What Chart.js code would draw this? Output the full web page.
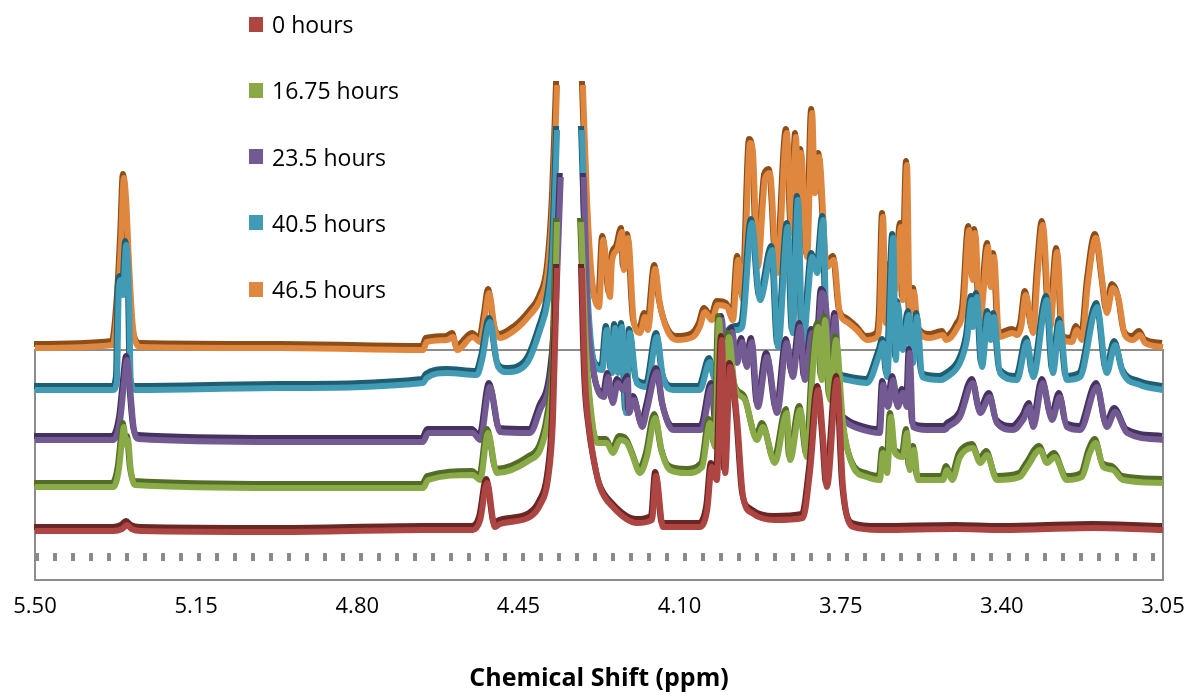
<!DOCTYPE html>
<html>
<head>
<meta charset="utf-8">
<script src="https://cdn.jsdelivr.net/npm/chart.js@4.4.1/dist/chart.umd.min.js"></script>
<style>
  body { margin: 0; background: #fff; }
  #wrap { position: relative; width: 1186px; height: 698px; }
  #legend { position: absolute; left: 249px; top: 0; font-family: "Open Sans", sans-serif; font-size: 23px; color: #000; }
  .item { position: absolute; left: 0; width: 220px; height: 30px; display: flex; align-items: center; white-space: nowrap; }
  .box { width: 14px; height: 15px; margin-right: 9px; flex: none; }
</style>
</head>
<body>
<div id="wrap">
  <canvas id="nmr" width="1186" height="698"></canvas>
  <div id="legend"></div>
</div>
<script>
// x axis ticks (ppm), axis runs high -> low
const ppmTicks = [5.50, 5.15, 4.80, 4.45, 4.10, 3.75, 3.40, 3.05];
const seriesNames = ['0 hours', '16.75 hours', '23.5 hours', '40.5 hours', '46.5 hours'];
const seriesColors = ['#ad4543', '#8aaa47', '#735a93', '#429bb5', '#e0873f'];
const seriesShades = ['#6a2624', '#536c27', '#45325f', '#1f5e72', '#8d4d18'];

// [ppm, stacked intensity]; null = water region removed
const h0 = [[5.500,49],[5.330,49],[5.311,51],[5.300,55],[5.290,51],[5.270,49],[4.968,48],[4.657,50],[4.549,50],[4.533,60],[4.518,97],[4.501,53],[4.490,56],[4.425,63],[4.403,75],[4.386,100],[4.375,160],[4.366,312],[4.34,null],[4.312,312],[4.305,200],[4.295,147],[4.284,115],[4.273,93],[4.245,73],[4.192,57],[4.160,60],[4.151,104],[4.136,53],[4.056,53],[4.040,70],[4.030,113],[4.019,100],[4.008,240],[4.001,107],[3.990,213],[3.975,160],[3.962,83],[3.943,67],[3.893,60],[3.832,62],[3.817,107],[3.799,190],[3.788,140],[3.780,93],[3.758,200],[3.745,93],[3.723,53],[3.665,50],[3.500,51],[3.400,50],[3.200,52],[3.050,50]];

const h16 = [[5.500,93],[5.330,93],[5.318,110],[5.311,140],[5.307,153],[5.302,135],[5.298,140],[5.292,110],[5.283,95],[4.968,92],[4.657,92],[4.646,100],[4.549,105],[4.533,100],[4.516,147],[4.497,107],[4.425,120],[4.403,130],[4.386,160],[4.375,210],[4.366,358],[4.34,null],[4.314,358],[4.303,230],[4.290,160],[4.279,137],[4.258,137],[4.245,127],[4.229,140],[4.214,137],[4.201,123],[4.186,107],[4.171,123],[4.153,162],[4.138,127],[4.121,110],[4.084,107],[4.051,113],[4.034,157],[4.023,133],[4.014,260],[4.006,160],[3.993,243],[3.980,193],[3.958,180],[3.932,140],[3.919,153],[3.893,117],[3.867,167],[3.860,120],[3.838,170],[3.823,123],[3.810,213],[3.799,253],[3.791,200],[3.784,260],[3.773,180],[3.760,240],[3.745,157],[3.723,113],[3.693,103],[3.665,100],[3.658,127],[3.649,107],[3.641,163],[3.632,127],[3.615,123],[3.606,147],[3.600,110],[3.591,130],[3.582,100],[3.528,100],[3.519,110],[3.508,100],[3.491,123],[3.463,132],[3.447,117],[3.432,125],[3.411,100],[3.361,103],[3.345,113],[3.317,130],[3.302,117],[3.285,123],[3.259,100],[3.226,103],[3.209,127],[3.196,137],[3.180,113],[3.159,110],[3.137,100],[3.050,97]];

const h23 = [[5.500,140],[5.330,140],[5.315,160],[5.307,195],[5.300,220],[5.294,195],[5.285,150],[5.275,141],[4.968,138],[4.657,138],[4.646,147],[4.549,147],[4.533,140],[4.512,193],[4.490,148],[4.425,147],[4.403,170],[4.381,200],[4.371,250],[4.358,403],[4.34,null],[4.308,403],[4.301,280],[4.286,207],[4.264,183],[4.255,203],[4.245,177],[4.234,197],[4.223,190],[4.212,200],[4.210,167],[4.199,180],[4.181,153],[4.171,170],[4.149,208],[4.136,173],[4.114,150],[4.056,150],[4.049,153],[4.030,193],[4.019,150],[4.008,260],[3.997,167],[3.986,248],[3.975,217],[3.964,238],[3.954,213],[3.943,238],[3.930,173],[3.910,223],[3.888,167],[3.867,237],[3.854,203],[3.838,253],[3.828,200],[3.812,247],[3.801,233],[3.791,287],[3.780,263],[3.773,190],[3.762,263],[3.752,173],[3.736,157],[3.702,150],[3.665,147],[3.658,195],[3.647,173],[3.636,200],[3.626,173],[3.615,187],[3.606,173],[3.600,227],[3.593,153],[3.563,150],[3.524,150],[3.517,153],[3.491,163],[3.463,197],[3.447,167],[3.426,183],[3.411,157],[3.376,150],[3.354,160],[3.339,173],[3.332,153],[3.311,197],[3.291,160],[3.274,183],[3.259,153],[3.230,150],[3.193,193],[3.172,153],[3.154,168],[3.128,147],[3.050,140]];

const h40 = [[5.500,190],[5.330,190],[5.322,200],[5.318,290],[5.313,300],[5.309,285],[5.302,335],[5.296,290],[5.292,200],[5.283,190],[4.968,192],[4.657,197],[4.649,202],[4.605,207],[4.540,205],[4.529,220],[4.512,258],[4.494,213],[4.475,208],[4.431,217],[4.403,250],[4.386,280],[4.375,330],[4.366,450],[4.34,null],[4.312,450],[4.299,280],[4.282,213],[4.268,210],[4.258,250],[4.247,207],[4.240,252],[4.234,207],[4.225,253],[4.216,167],[4.208,247],[4.193,197],[4.171,193],[4.149,243],[4.136,203],[4.114,190],[4.056,190],[4.034,218],[4.023,200],[4.008,225],[3.990,247],[3.975,250],[3.964,253],[3.943,357],[3.925,280],[3.919,287],[3.899,330],[3.886,233],[3.865,353],[3.854,247],[3.843,380],[3.832,227],[3.823,273],[3.812,323],[3.801,307],[3.788,360],[3.780,247],[3.767,250],[3.756,207],[3.736,200],[3.693,197],[3.665,227],[3.658,237],[3.649,203],[3.636,342],[3.630,220],[3.626,275],[3.615,230],[3.602,265],[3.593,217],[3.584,263],[3.573,203],[3.534,200],[3.519,203],[3.491,217],[3.476,240],[3.465,280],[3.463,253],[3.454,283],[3.443,213],[3.430,265],[3.424,240],[3.417,263],[3.404,207],[3.367,200],[3.345,238],[3.332,203],[3.302,280],[3.289,207],[3.274,257],[3.259,200],[3.230,203],[3.193,273],[3.172,207],[3.154,235],[3.137,207],[3.100,195],[3.050,190]];

const h46 = [[5.500,232],[5.331,235],[5.320,280],[5.313,340],[5.307,402],[5.302,380],[5.296,320],[5.289,262],[5.283,240],[5.270,233],[4.968,232],[4.657,230],[4.649,238],[4.605,240],[4.592,243],[4.583,230],[4.549,243],[4.533,238],[4.523,262],[4.514,287],[4.501,250],[4.490,242],[4.457,250],[4.425,265],[4.403,280],[4.386,310],[4.375,380],[4.366,495],[4.34,null],[4.310,495],[4.301,380],[4.290,300],[4.275,273],[4.266,340],[4.251,283],[4.247,318],[4.236,330],[4.225,348],[4.221,310],[4.212,342],[4.199,257],[4.186,247],[4.175,263],[4.169,250],[4.153,311],[4.143,277],[4.127,250],[4.106,240],[4.071,243],[4.056,253],[4.045,268],[4.030,260],[4.017,275],[3.997,273],[3.984,260],[3.973,320],[3.962,280],[3.947,437],[3.941,430],[3.930,313],[3.914,402],[3.904,407],[3.888,307],[3.867,447],[3.856,347],[3.847,443],[3.843,380],[3.836,427],[3.823,323],[3.812,467],[3.806,387],[3.797,423],[3.780,313],[3.765,320],[3.752,267],[3.736,258],[3.715,250],[3.693,240],[3.671,243],[3.665,263],[3.658,363],[3.652,257],[3.641,313],[3.632,290],[3.619,353],[3.615,280],[3.606,415],[3.600,267],[3.591,288],[3.582,250],[3.556,242],[3.528,245],[3.521,240],[3.497,252],[3.484,270],[3.471,350],[3.463,300],[3.458,347],[3.447,260],[3.430,333],[3.424,293],[3.417,323],[3.406,243],[3.376,247],[3.367,245],[3.358,253],[3.348,285],[3.332,247],[3.322,307],[3.311,355],[3.295,253],[3.280,328],[3.267,240],[3.248,238],[3.237,250],[3.226,240],[3.213,297],[3.196,342],[3.180,293],[3.172,267],[3.159,292],[3.146,280],[3.133,245],[3.115,240],[3.100,245],[3.089,237],[3.050,233]];

// dotted floor of the 3D plot
const floorLine = [[5.50,23],[3.05,23]];

const spectra = [h0, h16, h23, h40, h46];
const toXY = arr => arr.map(p => ({ x: p[0], y: p[1] }));

const font = { family: '"Open Sans", sans-serif', size: 22 };

// dark edge under each ribbon, like the excel 3d line
const ribbonShade = {
    id: 'ribbonShade',
    beforeDatasetDraw(chart, args) {
        const ds = chart.data.datasets[args.index];
        if (!ds.shade) return;
        const ctx = chart.ctx;
        ctx.save();
        ctx.shadowColor = ds.shade;
        ctx.shadowOffsetX = -1;
        ctx.shadowOffsetY = -4;
        ctx.shadowBlur = 0;
    },
    afterDatasetDraw(chart, args) {
        if (chart.data.datasets[args.index].shade) chart.ctx.restore();
    }
};

const frame = {
    id: 'frame',
    beforeDatasetsDraw(chart) {
        const { ctx, chartArea: a } = chart;
        ctx.save();
        ctx.strokeStyle = '#8c8c8c';
        ctx.lineWidth = 2;
        ctx.strokeRect(a.left, a.top, a.right - a.left, a.bottom - a.top);
        ctx.restore();
    }
};

const datasets = spectra.map((s, i) => ({
    label: seriesNames[i],
    data: toXY(s),
    borderColor: seriesColors[i],
    backgroundColor: seriesColors[i],
    shade: seriesShades[i],
    borderWidth: 6,
    pointRadius: 0,
    cubicInterpolationMode: 'monotone',
    spanGaps: false,
    clip: false
}));
datasets.push({
    label: 'floor',
    data: toXY(floorLine),
    borderColor: '#8a8a8a',
    borderWidth: 8,
    borderDash: [4, 14],
    borderCapStyle: 'butt',
    pointRadius: 0,
    clip: false
});

const chart = new Chart(document.getElementById('nmr'), {
    type: 'line',
    data: { datasets },
    options: {
        responsive: false,
        animation: false,
        layout: { padding: { top: 350, left: 35, right: 23, bottom: 0 } },
        plugins: { legend: { display: false }, tooltip: { enabled: false } },
        scales: {
            x: {
                type: 'linear', min: 3.05, max: 5.50, reverse: true,
                grid: { display: false, drawTicks: false },
                border: { display: false },
                afterBuildTicks: s => { s.ticks = ppmTicks.map(v => ({ value: v })); },
                afterFit: s => { s.height = 118; s.paddingLeft = 0; s.paddingRight = 0; },
                ticks: { font, color: '#000', padding: 14, maxRotation: 0, autoSkip: false, callback: v => v.toFixed(2) },
                title: { display: true, text: 'Chemical Shift (ppm)', color: '#000',
                    font: { family: '"Open Sans", sans-serif', size: 25, weight: 'bold' }, padding: { top: 0, bottom: 4 } }
            },
            y: { display: false, min: 0, max: 230 }
        }
    },
    plugins: [frame, ribbonShade]
});

// legend column on the left, built from the chart's datasets
const legend = document.getElementById('legend');
chart.data.datasets.slice(0, seriesNames.length).forEach((ds, i) => {
    const row = document.createElement('div');
    row.className = 'item';
    row.style.top = (9 + i * 66.3) + 'px';
    row.innerHTML = `<span class="box" style="background:${ds.borderColor}"></span><span>${ds.label}</span>`;
    legend.appendChild(row);
});
</script>
</body>
</html>
